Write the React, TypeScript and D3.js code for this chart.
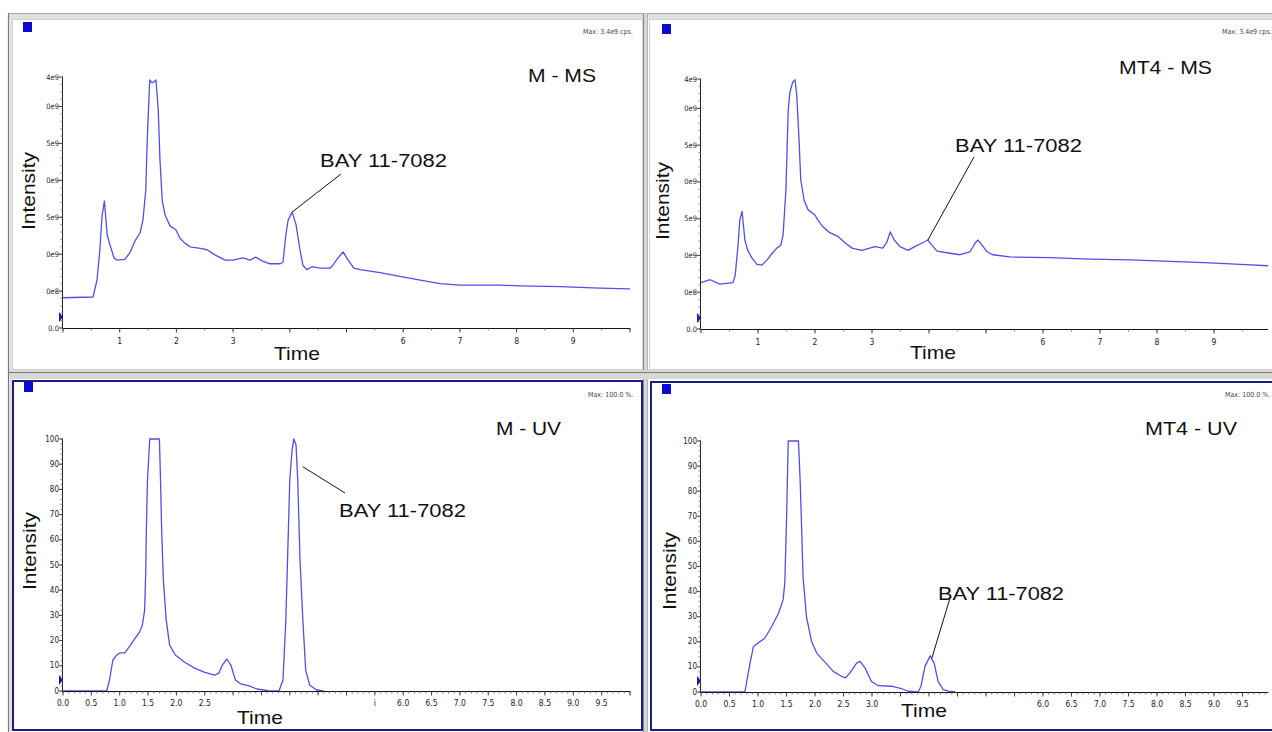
import React from 'react';
import * as d3 from 'd3';

// Chromatogram traces: [time (min), intensity]
// MS panels: intensity in units of 1e9 cps, UV panels: percent
const mMsTrace: [number, number][] = [
  [0, 0.41], [0.53, 0.42], [0.6, 0.65], [0.65, 1.06], [0.69, 1.53], [0.73, 1.72], [0.78, 1.26],
  [0.83, 1.12], [0.9, 0.95], [0.95, 0.92], [1.09, 0.93], [1.18, 1.02], [1.27, 1.18], [1.36, 1.29],
  [1.41, 1.46], [1.46, 1.87], [1.48, 2.41], [1.5, 2.82], [1.53, 3.36], [1.57, 3.32], [1.6, 3.33],
  [1.64, 3.36], [1.68, 2.95], [1.71, 2.28], [1.75, 1.73], [1.8, 1.53], [1.89, 1.38], [1.99, 1.33],
  [2.06, 1.22], [2.15, 1.15], [2.24, 1.1], [2.42, 1.08], [2.54, 1.06], [2.68, 0.99], [2.86, 0.92],
  [3.0, 0.92], [3.17, 0.95], [3.3, 0.92], [3.4, 0.96], [3.51, 0.91], [3.65, 0.87], [3.83, 0.87],
  [3.88, 0.89], [3.93, 1.26], [3.97, 1.46], [4.04, 1.57], [4.11, 1.4], [4.18, 1.06], [4.23, 0.85],
  [4.3, 0.79], [4.39, 0.83], [4.53, 0.81], [4.71, 0.81], [4.76, 0.85], [4.85, 0.95], [4.94, 1.03],
  [5.03, 0.92], [5.13, 0.81], [5.24, 0.79], [5.59, 0.75], [5.94, 0.7], [6.3, 0.65], [6.65, 0.6],
  [7.0, 0.58], [7.71, 0.58], [8.06, 0.57], [8.77, 0.56], [9.47, 0.54], [10.0, 0.53],
];

const mt4MsTrace: [number, number][] = [
  [0, 0.63], [0.16, 0.67], [0.33, 0.61], [0.56, 0.63], [0.6, 0.73], [0.65, 1.14], [0.68, 1.48],
  [0.72, 1.6], [0.77, 1.21], [0.82, 1.07], [0.89, 0.97], [0.98, 0.88], [1.07, 0.87], [1.16, 0.94],
  [1.25, 1.03], [1.33, 1.1], [1.4, 1.14], [1.44, 1.28], [1.49, 1.89], [1.53, 2.98], [1.56, 3.22],
  [1.61, 3.36], [1.65, 3.39], [1.68, 3.18], [1.72, 2.57], [1.75, 2.03], [1.81, 1.75], [1.88, 1.62],
  [2.0, 1.55], [2.05, 1.48], [2.14, 1.39], [2.26, 1.31], [2.4, 1.26], [2.53, 1.17], [2.65, 1.1],
  [2.82, 1.07], [3.05, 1.12], [3.19, 1.1], [3.26, 1.18], [3.32, 1.32], [3.39, 1.21], [3.49, 1.12],
  [3.63, 1.07], [3.75, 1.12], [3.88, 1.17], [3.98, 1.21], [4.05, 1.14], [4.14, 1.06], [4.37, 1.03],
  [4.54, 1.01], [4.72, 1.05], [4.81, 1.17], [4.86, 1.21], [4.93, 1.14], [5.02, 1.05], [5.12, 1.01],
  [5.42, 0.98], [6.12, 0.97], [6.82, 0.95], [7.53, 0.94], [8.23, 0.92], [8.93, 0.9], [9.46, 0.88],
  [9.95, 0.86],
];

const mUvTrace: [number, number][] = [
  [0, 0], [0.77, 0], [0.82, 4.4], [0.88, 12.3], [0.95, 14.3], [1.0, 15.1], [1.09, 15.1], [1.18, 17.9],
  [1.26, 20.6], [1.35, 23.4], [1.4, 26.2], [1.44, 32.1], [1.46, 48.0], [1.47, 63.9], [1.49, 83.7],
  [1.53, 100], [1.7, 100], [1.72, 83.7], [1.74, 63.9], [1.77, 44.0], [1.82, 28.2], [1.88, 18.3],
  [1.98, 14.3], [2.14, 11.5], [2.32, 9.1], [2.49, 7.5], [2.67, 6.3], [2.75, 7.1], [2.81, 10.3],
  [2.89, 12.7], [2.96, 10.3], [3.04, 4.4], [3.14, 2.8], [3.28, 2.0], [3.42, 0.8], [3.54, 0.4],
  [3.63, 0], [3.81, 0], [3.88, 4.4], [3.93, 28.2], [3.96, 52.0], [4.0, 83.7], [4.04, 95.6],
  [4.07, 100], [4.11, 97.6], [4.14, 83.7], [4.18, 52.0], [4.23, 28.2], [4.28, 8.3], [4.35, 2.4],
  [4.47, 0.4], [4.6, 0],
];

const mt4UvTrace: [number, number][] = [
  [0, 0], [0.77, 0], [0.86, 11.5], [0.92, 18.1], [1.0, 19.5], [1.12, 21.4], [1.24, 26.1], [1.36, 31.4],
  [1.44, 36.7], [1.47, 43.3], [1.5, 68], [1.53, 100], [1.71, 100], [1.74, 84], [1.77, 62], [1.79, 46],
  [1.85, 30], [1.94, 20.1], [2.03, 15.5], [2.19, 11.5], [2.32, 8.2], [2.47, 6.2], [2.53, 5.6],
  [2.61, 7.5], [2.73, 11.5], [2.79, 12.2], [2.88, 9.5], [2.99, 4.2], [3.11, 2.5], [3.34, 2.3],
  [3.52, 1.3], [3.64, 0.3], [3.81, 0], [3.86, 2.3], [3.93, 10.2], [4.02, 14.4], [4.09, 11.5],
  [4.16, 4.2], [4.25, 0.9], [4.34, 0.3], [4.46, 0],
];

// axis ticks
const msYTicks = [0, 0.5, 1, 1.5, 2, 2.5, 3, 3.4];
const msYLabels = ['0.0', '0e8', '0e9', '5e9', '0e9', '5e9', '0e9', '4e9'];
const msXTicks = [1, 2, 3, 6, 7, 8, 9];
const uvYTicks = [0, 10, 20, 30, 40, 50, 60, 70, 80, 90, 100];
const mUvXTicks = [0, 0.5, 1, 1.5, 2, 2.5, 5.5, 6, 6.5, 7, 7.5, 8, 8.5, 9, 9.5];
const mUvXLabels = ['0.0', '0.5', '1.0', '1.5', '2.0', '2.5', 'i', '6.0', '6.5', '7.0', '7.5', '8.0', '8.5', '9.0', '9.5'];
const mt4UvXTicks = [0, 0.5, 1, 1.5, 2, 2.5, 3, 6, 6.5, 7, 7.5, 8, 8.5, 9, 9.5];
const mt4UvXLabels = ['0.0', '0.5', '1.0', '1.5', '2.0', '2.5', '3.0', '6.0', '6.5', '7.0', '7.5', '8.0', '8.5', '9.0', '9.5'];

const TRACE = '#5050e6';
const BIG = '"Liberation Sans", Arial, sans-serif';
const SMALL = '"DejaVu Sans Condensed", "Liberation Sans Narrow", sans-serif';

type Spec = {
  kind: 'ms' | 'uv';
  x0: number; x10: number; xEnd: number;
  yBase: number; yTop: number; yMax: number;
  trace: [number, number][];
  yTicks: number[]; yLabels: string[]; yMinor: number;
  xTicks: number[]; xLabels: string[]; xMajor: number; xMinor: number;
  title: string; titleX: number; titleY: number; titleLen: number;
  bayX: number; bayY: number; bayLen: number;
  anchor: [number, number]; leaderEnd: [number, number];
  intX: number; intY: number;
  timeX: number; timeY: number;
  maxText: string; maxX: number; maxY: number;
  squareX: number; squareY: number;
};

function Panel({ s }: { s: Spec }) {
  const x = d3.scaleLinear().domain([0, 10]).range([s.x0, s.x10]);
  const y = d3.scaleLinear().domain([0, s.yMax]).range([s.yBase, s.yTop]);
  const line = d3.line<[number, number]>().x(d => x(d[0])).y(d => y(d[1]));

  const xMajors = d3.range(0, Math.round(s.xEnd / s.xMajor) + 1).map(i => i * s.xMajor).filter(v => v <= s.xEnd);
  const xMinors = d3.range(0, Math.round(s.xEnd / s.xMinor) + 1).map(i => i * s.xMinor).filter(v => v <= s.xEnd);
  const yMinors = d3.range(0, Math.round(s.yMax / s.yMinor) + 1).map(i => i * s.yMinor).filter(v => v <= s.yMax);

  const base = s.yBase;
  const ax = s.x0;

  return (
    <g>
      {/* small blue marker in the panel corner */}
      <rect x={s.squareX} y={s.squareY} width={9} height={10} fill="#0a0ad0" />

      {/* trace */}
      <path d={line(s.trace) || ''} fill="none" stroke={TRACE} strokeWidth={1.3} strokeLinejoin="round" />

      {/* x axis */}
      <line x1={ax} x2={x(s.xEnd)} y1={base + 0.5} y2={base + 0.5} stroke="#111" strokeWidth={1.2} />
      {xMinors.map((v, i) => (
        <line key={'xm' + i} x1={x(v)} x2={x(v)} y1={base} y2={base + 2.5} stroke="#555" strokeWidth={0.8} />
      ))}
      {xMajors.map((v, i) => (
        <line key={'xM' + i} x1={x(v)} x2={x(v)} y1={base} y2={base + 4.5} stroke="#333" strokeWidth={0.9} />
      ))}
      {s.xTicks.map((v, i) => (
        <text key={'xl' + i} x={x(v)} y={base + (s.kind === 'ms' ? 16 : 15)} textAnchor="middle"
          fontFamily={SMALL} fontSize={8.5} fill="#222">{s.xLabels[i]}</text>
      ))}

      {/* y axis */}
      <line x1={ax - 0.5} x2={ax - 0.5} y1={y(s.yMax)} y2={base} stroke="#222" strokeWidth={1} />
      {yMinors.map((v, i) => (
        <line key={'ym' + i} x1={ax - 2.5} x2={ax} y1={y(v)} y2={y(v)} stroke="#666" strokeWidth={0.8} />
      ))}
      {s.yTicks.map((v, i) => (
        <g key={'yl' + i}>
          <line x1={ax - 4} x2={ax} y1={y(v)} y2={y(v)} stroke="#333" strokeWidth={0.9} />
          <text x={ax - 4} y={y(v) + 2.5} textAnchor="end" fontFamily={SMALL}
            fontSize={s.kind === 'ms' ? 7.5 : 8} fill="#222">{s.yLabels[i]}</text>
        </g>
      ))}
      {/* blue pointer next to the y axis */}
      <path d={`M${ax - 4},${y(0) - 16}L${ax},${y(0) - 11}L${ax - 4},${y(0) - 6}Z`} fill="#1c1ca8" />

      {/* labels */}
      <text x={s.titleX} y={s.titleY} fontFamily={BIG} fontSize={18} textLength={s.titleLen}
        lengthAdjust="spacingAndGlyphs" fill="#111">{s.title}</text>
      <text x={s.bayX} y={s.bayY} fontFamily={BIG} fontSize={18} textLength={s.bayLen}
        lengthAdjust="spacingAndGlyphs" fill="#111">BAY 11-7082</text>
      <line x1={x(s.anchor[0])} y1={y(s.anchor[1])} x2={s.leaderEnd[0]} y2={s.leaderEnd[1]}
        stroke="#111" strokeWidth={1} />
      <text transform={`translate(${s.intX},${s.intY}) rotate(-90)`} textAnchor="middle" fontFamily={BIG}
        fontSize={18} textLength={78} lengthAdjust="spacingAndGlyphs" fill="#111">Intensity</text>
      <text x={s.timeX} y={s.timeY} fontFamily={BIG} fontSize={19} textLength={46}
        lengthAdjust="spacingAndGlyphs" fill="#111">Time</text>
      <text x={s.maxX} y={s.maxY} fontFamily={SMALL} fontSize={7} fill="#444">{s.maxText}</text>
    </g>
  );
}

const panels: Spec[] = [
  {
    kind: 'ms', x0: 63, x10: 630, xEnd: 10, yBase: 328, yTop: 77, yMax: 3.4, trace: mMsTrace,
    yTicks: msYTicks, yLabels: msYLabels, yMinor: 0.1,
    xTicks: msXTicks, xLabels: msXTicks.map(String), xMajor: 1, xMinor: 0.5,
    title: 'M - MS', titleX: 528, titleY: 82, titleLen: 68,
    bayX: 320, bayY: 167, bayLen: 127, anchor: [4.04, 1.57], leaderEnd: [341, 174],
    intX: 35, intY: 191, timeX: 274, timeY: 360,
    maxText: 'Max: 3.4e9 cps.', maxX: 583, maxY: 34, squareX: 23, squareY: 22,
  },
  {
    kind: 'ms', x0: 701, x10: 1271, xEnd: 9.95, yBase: 329, yTop: 79, yMax: 3.4, trace: mt4MsTrace,
    yTicks: msYTicks, yLabels: msYLabels, yMinor: 0.1,
    xTicks: msXTicks, xLabels: msXTicks.map(String), xMajor: 1, xMinor: 0.5,
    title: 'MT4 - MS', titleX: 1119, titleY: 74, titleLen: 93,
    bayX: 955, bayY: 152, bayLen: 127, anchor: [3.98, 1.21], leaderEnd: [974, 157],
    intX: 669, intY: 201, timeX: 910, timeY: 359,
    maxText: 'Max: 3.4e9 cps.', maxX: 1222, maxY: 34, squareX: 662, squareY: 24,
  },
  {
    kind: 'uv', x0: 63, x10: 630, xEnd: 10, yBase: 691, yTop: 439, yMax: 100, trace: mUvTrace,
    yTicks: uvYTicks, yLabels: uvYTicks.map(String), yMinor: 2,
    xTicks: mUvXTicks, xLabels: mUvXLabels, xMajor: 0.5, xMinor: 0.1,
    title: 'M - UV', titleX: 496, titleY: 435, titleLen: 65,
    bayX: 339, bayY: 517, bayLen: 127, anchor: [4.23, 89], leaderEnd: [345, 493],
    intX: 36, intY: 551, timeX: 237, timeY: 724,
    maxText: 'Max: 100.0 %.', maxX: 588, maxY: 397, squareX: 24, squareY: 382,
  },
  {
    kind: 'uv', x0: 701, x10: 1271, xEnd: 9.95, yBase: 692, yTop: 441, yMax: 100, trace: mt4UvTrace,
    yTicks: uvYTicks, yLabels: uvYTicks.map(String), yMinor: 2,
    xTicks: mt4UvXTicks, xLabels: mt4UvXLabels, xMajor: 0.5, xMinor: 0.1,
    title: 'MT4 - UV', titleX: 1145, titleY: 435, titleLen: 92,
    bayX: 938, bayY: 600, bayLen: 126, anchor: [4.05, 13.5], leaderEnd: [950, 598],
    intX: 676, intY: 571, timeX: 901, timeY: 717,
    maxText: 'Max: 100.0 %.', maxX: 1225, maxY: 397, squareX: 662, squareY: 384,
  },
];

export default function App() {
  return (
    <div style={{ position: 'absolute', left: 0, top: 0 }}>
      <svg width={1272} height={732} style={{ display: 'block', background: '#fff' }}>
        {/* window frames */}
        <rect x={9} y={13} width={1263} height={7} fill="#e0e0dc" />
        <line x1={9} x2={1272} y1={13.5} y2={13.5} stroke="#a8a8a8" />
        <line x1={8.5} x2={8.5} y1={13} y2={732} stroke="#7a7a7a" strokeWidth={1.2} />
        <rect x={9} y={20} width={4} height={352} fill="#e2e2de" />
        <rect x={12.5} y={19.5} width={630} height={350} fill="#fff" stroke="#cfcfcf" />
        <rect x={649.5} y={19.5} width={630} height={350} fill="#fff" stroke="#cfcfcf" />

        <rect x={643} y={13} width={5} height={719} fill="#d6d6d2" />
        <line x1={643.5} x2={643.5} y1={13} y2={732} stroke="#8a8a8a" />
        <line x1={647.5} x2={647.5} y1={13} y2={732} stroke="#b4b4b4" />

        <rect x={9} y={370} width={1263} height={9} fill="#d8d8d4" />
        <line x1={9} x2={1272} y1={372.5} y2={372.5} stroke="#7c7c7c" />
        <rect x={9} y={379} width={3} height={353} fill="#e2e2de" />

        <rect x={13} y={381} width={629} height={349} fill="#fff" stroke="#1b1b8c" strokeWidth={2} />
        <rect x={651} y={382} width={630} height={348} fill="#fff" stroke="#1b1b8c" strokeWidth={2} />

        {panels.map((p, i) => <Panel key={i} s={p} />)}
      </svg>
    </div>
  );
}
